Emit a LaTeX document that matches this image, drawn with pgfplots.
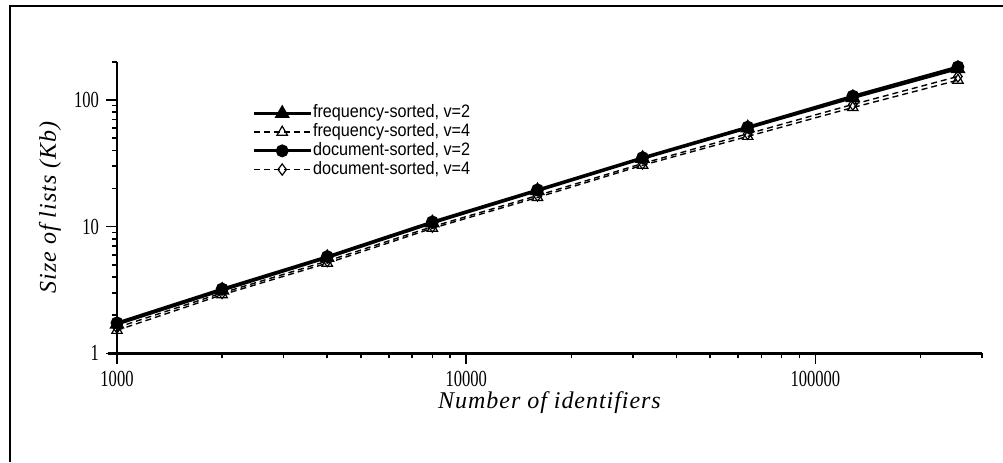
\documentclass[border=0pt]{standalone}
\usepackage{fontspec}
\setmainfont{Liberation Serif}
\usepackage{pgfplots}
\pgfplotsset{compat=1.18}
\newfontfamily\tickfont{Liberation Serif}[FakeStretch=0.72]
\newfontfamily\legfont{Liberation Sans}[FakeStretch=0.9]
\newfontfamily\labfont{Liberation Serif}[LetterSpace=4]
\begin{document}
\begin{tikzpicture}
\useasboundingbox (0,0) rectangle (501.5pt,231pt);
\draw[line width=0.6pt] (5pt,0) -- (5pt,228pt) -- (501.5pt,228pt);
\begin{axis}[
  at={(58.5pt,54.3pt)}, anchor=south west,
  scale only axis, width=432.5pt, height=145.85pt,
  xmode=log, ymode=log,
  xmin=1000, xmax=300000, ymin=1, ymax=200,
  axis lines=left,
  axis line style={-, line width=1.2pt},
  x axis line style={shorten <=-4.5pt},
  tick align=outside,
  major tick length=5.5pt, minor tick length=2.5pt,
  every tick/.style={black, line width=0.8pt},
  xtick={1000,10000,100000}, xticklabels={1000,10000,100000},
  minor xtick={2000,3000,4000,5000,6000,7000,8000,9000,20000,30000,40000,50000,60000,70000,80000,90000,200000,300000},
  ytick={1,10,100}, yticklabels={1,10,100},
  minor ytick={2,3,4,5,6,7,8,9,20,30,40,50,60,70,80,90,200},
  /pgf/number format/assume math mode=true,
  ticklabel style={font=\fontsize{11.5}{13}\tickfont},
  xlabel={Number of identifiers},
  ylabel={Size of lists (Kb)},
  label style={font=\fontsize{12}{14}\labfont\itshape},
  xlabel style={at={(axis description cs:0.5,-0.17)}, anchor=center},
  ylabel style={at={(axis description cs:-0.0775,0.5)}, anchor=center},
  legend style={at={(axis description cs:0.156,0.856)}, anchor=north west,
    draw=none, fill=none, font=\fontsize{9}{10}\legfont, inner sep=0pt,
    row sep=0pt, nodes={inner sep=0.5pt, text height=6.4pt, text depth=1.95pt},
    /tikz/every even column/.append style={column sep=0pt}},
  legend cell align=left,
  legend image code/.code={\draw[mark repeat=2, mark phase=2] plot coordinates {(0cm,0cm) (0.5cm,0cm) (1cm,0cm)};},
]
\addplot[black, line width=1.4pt, mark=triangle*, mark size=3pt, mark options={solid}] coordinates {
(1000,1.70) (2000,3.15) (4000,5.70) (8000,10.7) (16000,19.2) (32000,34.5) (64000,60) (128000,104) (256000,176)};
\addlegendentry{frequency-sorted, v=2}
\addplot[black, line width=0.7pt, densely dashed, mark=triangle, mark size=3pt, mark options={solid, line width=0.6pt}] coordinates {
(1000,1.52) (2000,2.90) (4000,5.15) (8000,9.7) (16000,17.0) (32000,30.5) (64000,51.5) (128000,87) (256000,143)};
\addlegendentry{frequency-sorted, v=4}
\addplot[black, line width=1.4pt, mark=*, mark size=2.5pt, mark options={solid}] coordinates {
(1000,1.74) (2000,3.22) (4000,5.80) (8000,10.9) (16000,19.5) (32000,35.0) (64000,61) (128000,107) (256000,182)};
\addlegendentry{document-sorted, v=2}
\addplot[black, line width=0.7pt, densely dashed, mark=diamond, mark size=2.8pt, mark options={solid, line width=0.6pt}] coordinates {
(1000,1.60) (2000,3.00) (4000,5.35) (8000,10.0) (16000,17.6) (32000,31.5) (64000,54) (128000,92) (256000,153)};
\addlegendentry{document-sorted, v=4}
\end{axis}
\end{tikzpicture}
\end{document}
